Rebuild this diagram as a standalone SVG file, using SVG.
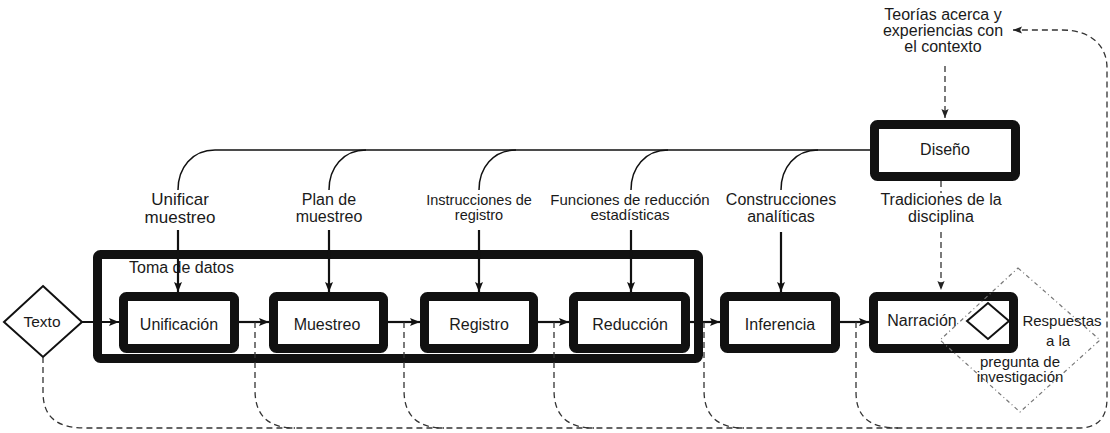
<svg xmlns="http://www.w3.org/2000/svg" width="1110" height="433" viewBox="0 0 1110 433">
<defs>
<marker id="ah" markerUnits="userSpaceOnUse" markerWidth="10" markerHeight="10" viewBox="0 0 10 10" refX="10" refY="5" orient="auto"><path d="M0,1 L10,5 L0,9 L2,5 z" fill="#111"/></marker>
<marker id="ahd" markerUnits="userSpaceOnUse" markerWidth="9" markerHeight="9" viewBox="0 0 10 10" refX="10" refY="5" orient="auto"><path d="M0,1 L10,5 L0,9 L2,5 z" fill="#222"/></marker>
<style>
text{font-family:"Liberation Sans",Arial,sans-serif;fill:#1a1a1a;font-size:16px;text-anchor:middle}
.box{fill:#fff;stroke:#111;stroke-width:9}
.solid{fill:none;stroke:#111;stroke-width:2.2}
.thin{fill:none;stroke:#111;stroke-width:1.5}
.dash{fill:none;stroke:#333;stroke-width:1.3;stroke-dasharray:6 4}
.dot{fill:none;stroke:#777;stroke-width:1.2;stroke-dasharray:4 3 1 3}
</style>
</defs>
<rect width="1110" height="433" fill="#fff"/>

<g id="toma">
<rect class="box" x="97.5" y="254.5" width="601" height="104" rx="3"/>
<text x="129" y="273" style="text-anchor:start">Toma de datos</text>
</g>
<g id="texto">
<polygon points="43,286 82,322 43,357 4,322" fill="#fff" stroke="#111" stroke-width="2"/>
<text x="42" y="327" style="font-size:15.5px">Texto</text>
</g>
<g id="unificacion"><rect class="box" x="123.5" y="296.5" width="111" height="52" rx="3"/><text x="179" y="330">Unificación</text></g>
<g id="muestreo"><rect class="box" x="273.5" y="296.5" width="110" height="52" rx="3"/><text x="327" y="330">Muestreo</text></g>
<g id="registro"><rect class="box" x="424.5" y="296.5" width="109" height="52" rx="3"/><text x="479" y="330">Registro</text></g>
<g id="reduccion"><rect class="box" x="573.5" y="296.5" width="112" height="52" rx="3"/><text x="630" y="330">Reducción</text></g>
<g id="inferencia"><rect class="box" x="724.5" y="296.5" width="111" height="52" rx="3"/><text x="780" y="330">Inferencia</text></g>
<g id="narracion"><rect class="box" x="873.5" y="296.5" width="140" height="52" rx="3"/><text x="922" y="326">Narración</text></g>
<g id="diseno"><rect class="box" x="874.5" y="124.5" width="141" height="52" rx="3"/><text x="945" y="155">Diseño</text></g>
<g id="respuestas">
<polygon class="dot" points="1018,268 1100,340 1020,412 940,340"/>
<polygon points="967,321 988,303 1009,321 988,339" fill="#fff" stroke="#111" stroke-width="2"/>
<text x="1062" y="326" style="font-size:15px">Respuestas</text>
<text x="1058" y="346" style="font-size:15px">a la</text>
<text x="1020" y="367" style="font-size:15px">pregunta de</text>
<text x="1020" y="382" style="font-size:15px">investigación</text>
</g>
<g id="teorias">
<text x="943" y="20">Teorías acerca y</text>
<text x="943" y="36">experiencias con</text>
<text x="943" y="52">el contexto</text>
</g>
<g id="labels">
<text x="180" y="205" style="font-size:17px">Unificar</text>
<text x="180" y="223" style="font-size:17px">muestreo</text>
<text x="329" y="205">Plan de</text>
<text x="329" y="222">muestreo</text>
<text x="479" y="205" style="font-size:14.5px">Instrucciones de</text>
<text x="479" y="220" style="font-size:14.5px">registro</text>
<text x="630" y="205" style="font-size:15px">Funciones de reducción</text>
<text x="630" y="220" style="font-size:15px">estadísticas</text>
<text x="781" y="205">Construcciones</text>
<text x="781" y="222">analíticas</text>
<text x="941" y="205">Tradiciones de la</text>
<text x="941" y="222">disciplina</text>
</g>

<g id="connectors">
<path class="thin" d="M178,190 C178,168 192,150 215,150 H870"/>
<path class="thin" d="M329,190 C329,168 343,150 366,150"/>
<path class="thin" d="M479,190 C479,168 493,150 516,150"/>
<path class="thin" d="M631,190 C631,168 645,150 668,150"/>
<path class="thin" d="M781,190 C781,168 795,150 818,150"/>
<path class="solid" d="M178,230 V292" marker-end="url(#ah)"/>
<path class="solid" d="M329,230 V292" marker-end="url(#ah)"/>
<path class="solid" d="M479,230 V292" marker-end="url(#ah)"/>
<path class="solid" d="M631,230 V292" marker-end="url(#ah)"/>
<path class="solid" d="M781,232 V292" marker-end="url(#ah)"/>
<path class="solid" d="M82,322 H119" marker-end="url(#ah)"/>
<path class="solid" d="M239,322 H269" marker-end="url(#ah)"/>
<path class="solid" d="M388,322 H420" marker-end="url(#ah)"/>
<path class="solid" d="M538,322 H569" marker-end="url(#ah)"/>
<path class="solid" d="M690,322 H720" marker-end="url(#ah)"/>
<path class="solid" d="M840,322 H869" marker-end="url(#ah)"/>
<path class="dash" d="M945,66 V118" marker-end="url(#ahd)"/>
<path class="dash" d="M941,181 V193"/>
<path class="dash" d="M941,232 V290" marker-end="url(#ahd)"/>
<path class="dash" d="M43,357 V392 C43,418 58,428 85,428 H1078 C1098,428 1107,418 1107,398 V68 C1107,45 1090,30 1062,30 H1013" marker-end="url(#ahd)"/>
<path class="dash" d="M255,322 V390 C255,417 270,428 295,428"/>
<path class="dash" d="M404,322 V390 C404,417 419,428 444,428"/>
<path class="dash" d="M554,322 V390 C554,417 569,428 594,428"/>
<path class="dash" d="M704,322 V390 C704,417 719,428 744,428"/>
<path class="dash" d="M856,322 V392 C856,418 871,428 898,428"/>
</g>
</svg>
